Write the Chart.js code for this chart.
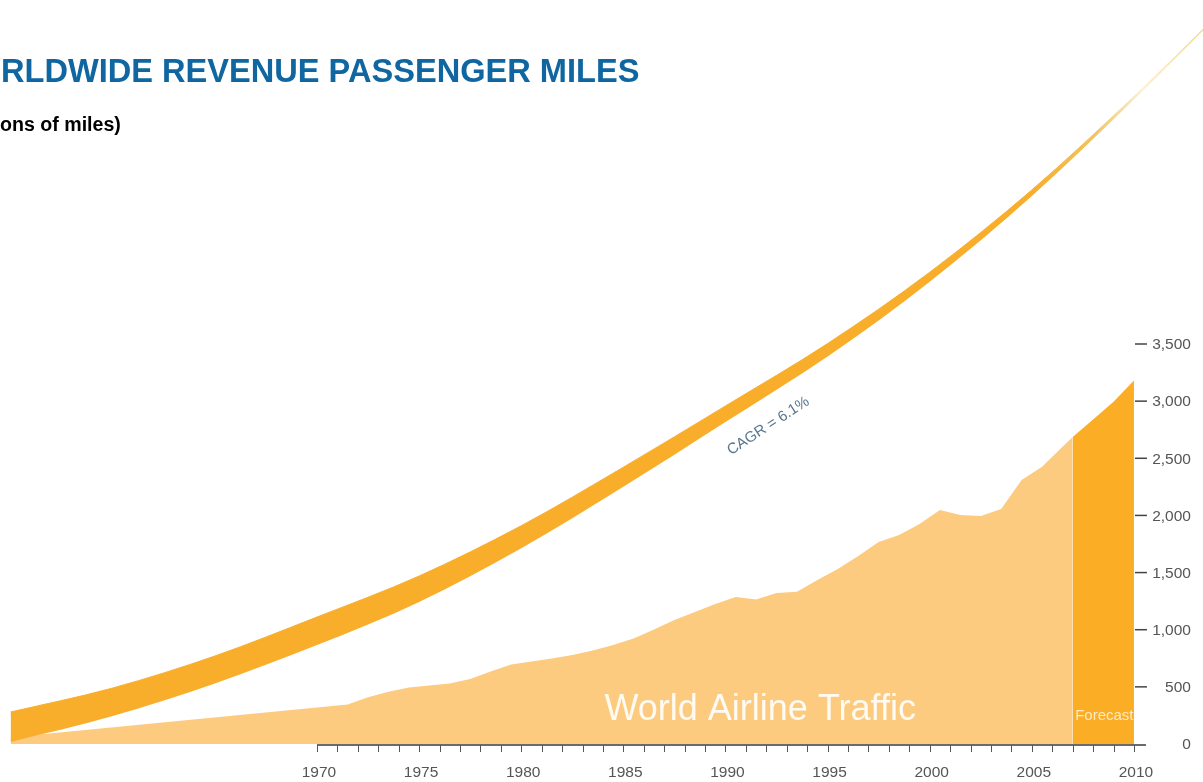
<!DOCTYPE html>
<html>
<head>
<meta charset="utf-8">
<title>Worldwide Revenue Passenger Miles</title>
<script src="https://cdn.jsdelivr.net/npm/chart.js@4.4.1/dist/chart.umd.min.js"></script>
<style>
  html, body { margin: 0; padding: 0; background: #fff; overflow: hidden; }
  #wrap { position: relative; width: 1203px; height: 782px; }
</style>
</head>
<body>
<div id="wrap"><canvas id="rpm"></canvas></div>
<script>
'use strict';

// world airline traffic, billions of revenue passenger miles (annual totals, drawn at mid-year)
let trafficYears = [
  1970, 1971, 1972, 1973, 1974, 1975, 1976, 1977, 1978, 1979,
  1980, 1981, 1982, 1983, 1984, 1985, 1986, 1987, 1988, 1989,
  1990, 1991, 1992, 1993, 1994, 1995, 1996, 1997, 1998, 1999,
  2000, 2001, 2002, 2003, 2004, 2005, 2006
];
let trafficValues = [
  328, 346, 410, 458, 495, 512, 529, 569, 634, 696,
  722, 748, 779, 818, 866, 923, 1002, 1085, 1155, 1225,
  1286, 1264, 1321, 1333, 1435, 1531, 1645, 1768, 1829, 1925,
  2048, 2004, 1995, 2056, 2310, 2425, 2600
];

// thin wedge that leads the traffic area in from the left edge
let leadInYear = 1955;
let leadInValue = 60;

let forecastYears = [2007, 2008, 2009, 2010];
let forecastValues = [2686, 2840, 2995, 3180];

// growth ribbon, CAGR = 6.1%
let ribbonYears = [1955, 1960, 1965, 1970, 1975, 1980, 1985, 1990, 1995, 2000, 2005, 2010, 2014];
let ribbonUpper = [280, 490, 770, 1111, 1470, 1910, 2422, 2958, 3504, 4128, 4848, 5666, 6362];
let ribbonLower = [18, 245, 530, 866, 1243, 1713, 2251, 2818, 3391, 4045, 4795, 5639, 6354];

let yTicks = [0, 500, 1000, 1500, 2000, 2500, 3000, 3500];
let xLabelYears = [1970, 1975, 1980, 1985, 1990, 1995, 2000, 2005, 2010];
let firstTickYear = 1970;
let lastTickYear = 2010;

let titleText = 'WORLDWIDE REVENUE PASSENGER MILES';
let subtitleText = '(Billions of miles)';

const FONT = '"Liberation Sans", Arial, Helvetica, sans-serif';
const RIBBON = '#f9ae2b';
const LIGHT = '#fccb7f';
const DARK = '#fbad25';

let trafficPoints = [{ x: leadInYear, y: leadInValue }];
for (let i = 0; i < trafficYears.length; i++) {
  trafficPoints.push({ x: trafficYears[i] + 0.5, y: trafficValues[i] });
}
// traffic area meets the forecast block
trafficPoints.push({ x: forecastYears[0], y: forecastValues[0] });

let forecastPoints = forecastYears.map((yr, i) => ({ x: yr, y: forecastValues[i] }));
let upperPoints = ribbonYears.map((yr, i) => ({ x: yr, y: ribbonUpper[i] }));
let lowerPoints = ribbonYears.map((yr, i) => ({ x: yr, y: ribbonLower[i] }));

// ribbon fades out towards the top right
function ribbonFill(context) {
  let chart = context.chart;
  let area = chart.chartArea;
  if (!area) {
    return RIBBON;
  }
  let g = chart.ctx.createLinearGradient(area.left, 0, area.right, 0);
  g.addColorStop(0, RIBBON);
  g.addColorStop(0.86, RIBBON);
  g.addColorStop(0.91, '#f0c460');
  g.addColorStop(0.95, '#fbf1d8');
  g.addColorStop(1, '#f2d98f');
  return g;
}

function line(ctx, x1, y1, x2, y2) {
  ctx.beginPath();
  ctx.moveTo(x1, y1);
  ctx.lineTo(x2, y2);
  ctx.stroke();
}

const overlay = {
  id: 'overlay',
  afterDraw(chart) {
    let ctx = chart.ctx;
    let xs = chart.scales.x;
    let ys = chart.scales.y;
    let px = v => xs.getPixelForValue(v);
    let py = v => ys.getPixelForValue(v);
    ctx.save();

    // titles start off the left edge of the canvas
    ctx.textAlign = 'left';
    ctx.textBaseline = 'alphabetic';
    ctx.font = 'bold 32.6px ' + FONT;
    ctx.fillStyle = '#0f66a0';
    ctx.fillText(titleText, 1 - ctx.measureText(titleText.slice(0, 2)).width, 82);
    ctx.font = 'bold 19.6px ' + FONT;
    ctx.fillStyle = '#000';
    ctx.fillText(subtitleText, 0 - ctx.measureText(subtitleText.slice(0, 6)).width, 131);

    // x axis
    let axisY = Math.round(py(0)) + 1;
    let axisEnd = px(lastTickYear) + 12;
    ctx.strokeStyle = '#3a3a3a';
    ctx.lineWidth = 1.5;
    line(ctx, px(firstTickYear), axisY, axisEnd, axisY);
    ctx.lineWidth = 1;
    ctx.strokeStyle = '#555';
    for (let yr = firstTickYear; yr <= lastTickYear; yr++) {
      let x = Math.round(px(yr)) + 0.5;
      line(ctx, x, axisY, x, axisY + 7);
    }
    ctx.font = '15.5px ' + FONT;
    ctx.fillStyle = '#555';
    ctx.textAlign = 'center';
    for (let yr of xLabelYears) {
      ctx.fillText(String(yr), px(yr) + 2, axisY + 32);
    }

    // value axis on the right
    let tickX = px(lastTickYear);
    ctx.textAlign = 'right';
    ctx.textBaseline = 'middle';
    ctx.strokeStyle = '#444';
    ctx.lineWidth = 1.5;
    for (let v of yTicks) {
      let y = py(v);
      if (v > 0) {
        line(ctx, tickX + 1, y, tickX + 13, y);
      }
      ctx.fillText(v.toLocaleString('en-US'), tickX + 57, y + 1);
    }

    // labels inside the areas
    ctx.textAlign = 'center';
    ctx.textBaseline = 'alphabetic';
    ctx.font = '36px ' + FONT;
    ctx.fillStyle = 'rgba(255,255,255,0.9)';
    ctx.fillText('World Airline Traffic', px(1991.7), py(210));

    ctx.textAlign = 'left';
    ctx.font = '15px ' + FONT;
    ctx.fillStyle = 'rgba(255,245,225,0.85)';
    ctx.fillText('Forecast', px(2007.12), py(210));

    // growth rate along the ribbon
    ctx.save();
    ctx.translate(px(1992.1), py(2782));
    ctx.rotate(-33 * Math.PI / 180);
    ctx.textAlign = 'center';
    ctx.textBaseline = 'middle';
    ctx.font = '15px ' + FONT;
    ctx.fillStyle = '#56768f';
    ctx.fillText('CAGR = 6.1%', 0, 0);
    ctx.restore();

    ctx.restore();
  }
};

new Chart(document.getElementById('rpm'), {
  type: 'line',
  data: {
    datasets: [
      {
        label: 'World Airline Traffic',
        data: trafficPoints,
        fill: 'origin',
        backgroundColor: LIGHT,
        borderWidth: 0,
        pointRadius: 0,
        tension: 0,
        order: 4
      },
      {
        label: 'Forecast',
        data: forecastPoints,
        fill: 'origin',
        backgroundColor: DARK,
        borderWidth: 0,
        pointRadius: 0,
        tension: 0,
        order: 3
      },
      {
        label: 'ribbon lower',
        data: lowerPoints,
        fill: false,
        borderWidth: 0,
        pointRadius: 0,
        cubicInterpolationMode: 'monotone',
        order: 2
      },
      {
        label: 'CAGR = 6.1%',
        data: upperPoints,
        fill: 2,
        backgroundColor: ribbonFill,
        borderColor: ribbonFill,
        borderWidth: 1,
        pointRadius: 0,
        cubicInterpolationMode: 'monotone',
        order: 1
      }
    ]
  },
  options: {
    responsive: true,
    maintainAspectRatio: false,
    devicePixelRatio: 1,
    animation: false,
    layout: { padding: 0 },
    scales: {
      x: { type: 'linear', min: 1954.48, max: 2013.38, display: false },
      y: { min: -332.5, max: 6510, display: false }
    },
    plugins: {
      legend: { display: false },
      tooltip: { enabled: false }
    }
  },
  plugins: [overlay]
});
</script>
</body>
</html>
